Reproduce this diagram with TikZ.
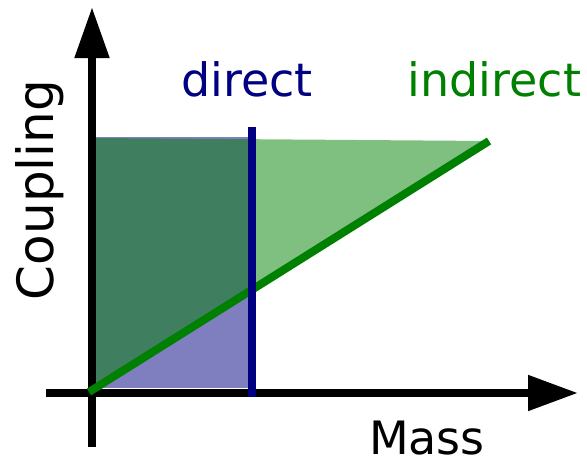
\documentclass[tikz,border=0pt]{standalone}
\usepackage{fontspec}
\setmainfont{DejaVu Sans}
\usetikzlibrary{arrows.meta}
\definecolor{navyc}{RGB}{0,0,128}
\definecolor{greenc}{RGB}{0,128,0}
\begin{document}
\begin{tikzpicture}[x=1pt,y=-1pt,
  axisline/.style={line width=8pt,black},
  plotline/.style={line width=8pt},
  regionfill/.style={fill opacity=0.5},
  lbl/.style={inner sep=0pt,font=\fontsize{46}{46}\selectfont}]
\useasboundingbox (0,0) rectangle (587,458);
% coordinates
\coordinate (ybot) at (92,447);
\coordinate (ytop) at (92,7);
\coordinate (xl) at (46,393);
\coordinate (xr) at (578,393);
\coordinate (gs) at (89,392);
\coordinate (ge) at (489,141);
\coordinate (btop) at (251.5,127);
\coordinate (bbot) at (251.5,397);
% regions
\fill[navyc,regionfill] (96,137) rectangle (250,388);
\fill[greenc,regionfill] (gs) -- (ge) -- (96,138) -- (96,388) -- cycle;
% axes
\draw[axisline,-{Triangle[length=51pt,width=33pt]}] (ybot) -- (ytop);
\draw[axisline,-{Triangle[length=50pt,width=34pt]}] (xl) -- (xr);
% lines
\draw[plotline,greenc] (gs) -- (ge);
\draw[plotline,navyc] (btop) -- (bbot);
% labels
\node[lbl,text=navyc,anchor=base] (direct) at (247,96) {direct};
\node[lbl,text=greenc,anchor=base] (indirect) at (494.5,96) {indirect};
\node[lbl,anchor=base] (mass) at (427,454) {Mass};
\node[inner sep=0pt,font=\fontsize{50}{50}\selectfont,rotate=90,anchor=base] (coupling) at (53,190) {Coupling};
\end{tikzpicture}
\end{document}
